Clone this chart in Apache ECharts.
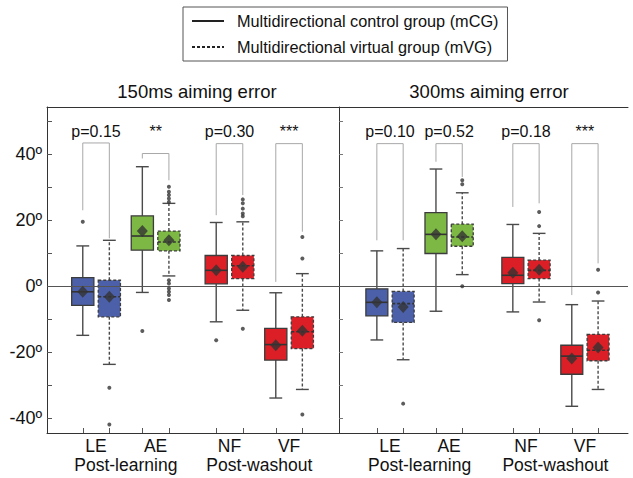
<!DOCTYPE html>
<html>
<head>
<meta charset="utf-8">
<script src="https://cdn.jsdelivr.net/npm/echarts@6/dist/echarts.min.js"></script>
<style>html,body{margin:0;padding:0;background:#fff;}#main{width:633px;height:478px;}</style>
</head>
<body>
<div id="main"></div>
<script>
// ---------- data ----------
const categories = ['LE', 'AE', 'NF', 'VF'];
const phases = ['Post-learning', 'Post-washout'];
const panelTitles = ['150ms aiming error', '300ms aiming error'];
const groupNames = ['Multidirectional control group (mCG)', 'Multidirectional virtual group (mVG)'];
const yTickLabels = [-40, -20, 0, 20, 40];
const yMinorTicks = [-40, -30, -20, -10, 0, 10, 20, 30, 40, 50];

// box stats: [lower whisker, Q1, median, Q3, upper whisker]
const mCG150 = [[-14.9, -5.8, -1.7, 2.6, 12.2], [-1.9, 10.9, 15.2, 21.3, 36.2], [-10.8, 0.7, 4.8, 9.3, 19.3], [-33.9, -22.4, -17.7, -12.8, -2.0]];
const mVG150 = [[-23.7, -9.3, -3.2, 1.8, 13.9], [3.1, 10.7, 13.4, 16.7, 25.1], [-7.3, 2.3, 6.2, 9.3, 19.5], [-31.3, -18.9, -13.8, -9.3, 3.8]];
const mCG150Mean = [-1.7, 16.7, 4.8, -17.9];
const mVG150Mean = [-3.2, 13.9, 5.9, -13.5];
const mCG150Out = [[19.5], [-13.6], [-16.4], []];
const mVG150Out = [[-30.8, -41.9], [30.1, 28.6, 27.6, 26.6, 25.5, 1.8, 0.8, -0.7, -1.7, -2.7, -4.2], [26.3, 25.1, 23.5, 22.0, 21.2, -12.9], [14.9, 8.4, -38.9]];

const mCG300 = [[-16.3, -9.0, -4.9, -0.8, 10.7], [-7.6, 9.9, 15.7, 22.3, 35.5], [-7.8, 0.8, 3.3, 8.7, 18.7], [-36.4, -26.7, -21.2, -17.9, -5.6]];
const mVG300 = [[-22.3, -11.0, -5.3, -1.6, 11.4], [3.5, 12.1, 14.9, 18.8, 28.3], [-4.8, 2.3, 4.8, 7.9, 16.0], [-31.3, -22.6, -19.4, -14.6, -4.5]];
const mCG300Mean = [-4.9, 15.7, 4.1, -21.9];
const mVG300Mean = [-6.3, 15.1, 5.0, -18.6];
const mCG300Out = [[], [], [], []];
const mVG300Out = [[-35.6], [32.1, 30.9, 0.0], [22.5, 18.2, -10.3], [5.0, -1.9]];

// significance: label, and bracket [top, left leg end, right leg end]
const sig150 = ['p=0.15', '**', 'p=0.30', '***'];
const sig300 = ['p=0.10', 'p=0.52', 'p=0.18', '***'];
const bracket150 = [[43.4, 23.0, 14.5], [40.2, 38.7, 32.1], [43.2, 21.5, 27.6], [43.2, 1.3, 16.5]];
const bracket300 = [[43.2, 13.9, 13.9], [43.2, 37.7, 33.1], [43.2, 24.0, 25.1], [43.2, -2.7, 6.9]];

// ---------- layout ----------
const groupPos = [[1.68, 3.72, 6.25, 8.29], [1.765, 3.81, 6.47, 8.51]];
const OFF = 0.455, BOX_HALF = 0.38, CAP_HALF = 0.22;
const Y_MIN = -44.5, Y_MAX = 54.3, SIG_TEXT_Y = 46.8;
const catColors = ['#4b60a9', '#7cb843', '#dc1f26', '#dc1f26'];
const FONT = 'Liberation Sans, Arial, sans-serif';

const chart = echarts.init(document.getElementById('main'), null, {renderer: 'svg'});

function boxSeries(panel, stats, sign, dashed) {
  return {
    type: 'custom', xAxisIndex: panel * 3, yAxisIndex: panel === 0 ? 0 : 1,
    silent: true, z: 3,
    data: stats.map((s, i) => [groupPos[panel][i] + sign * OFF, s[0], s[1], s[2], s[3], s[4], i]),
    encode: {x: 0, y: [1, 2, 3, 4, 5]},
    renderItem: function (params, api) {
      const x = api.value(0);
      const pLow = api.coord([x, api.value(1)]);
      const pQ1 = api.coord([x, api.value(2)]);
      const pMed = api.coord([x, api.value(3)]);
      const pQ3 = api.coord([x, api.value(4)]);
      const pHigh = api.coord([x, api.value(5)]);
      const hw = api.coord([x + BOX_HALF, 0])[0] - pMed[0];
      const cw = api.coord([x + CAP_HALF, 0])[0] - pMed[0];
      const col = catColors[api.value(6)];
      const dash = dashed ? [3, 2] : null;
      const ls = {stroke: '#4a4a4a', lineWidth: 1.4, lineDash: dash};
      const cx = pMed[0];
      return {
        type: 'group', children: [
          {type: 'line', shape: {x1: cx, y1: pQ3[1], x2: cx, y2: pHigh[1]}, style: ls},
          {type: 'line', shape: {x1: cx, y1: pQ1[1], x2: cx, y2: pLow[1]}, style: ls},
          {type: 'line', shape: {x1: cx - cw, y1: pHigh[1], x2: cx + cw, y2: pHigh[1]}, style: {stroke: '#4a4a4a', lineWidth: 1.4}},
          {type: 'line', shape: {x1: cx - cw, y1: pLow[1], x2: cx + cw, y2: pLow[1]}, style: {stroke: '#4a4a4a', lineWidth: 1.4}},
          {type: 'rect', shape: {x: cx - hw, y: pQ3[1], width: 2 * hw, height: pQ1[1] - pQ3[1]},
            style: {fill: col, stroke: '#3c3c3c', lineWidth: 1.3, lineDash: dash}},
          {type: 'line', shape: {x1: cx - hw, y1: pMed[1], x2: cx + hw, y2: pMed[1]}, style: {stroke: '#333', lineWidth: 1.6, lineDash: dash}}
        ]
      };
    }
  };
}

function meanSeries(panel, means, sign) {
  return {
    type: 'scatter', xAxisIndex: panel * 3, yAxisIndex: panel === 0 ? 0 : 1, silent: true, z: 5,
    symbol: 'diamond', symbolSize: [11, 12], itemStyle: {color: '#333'},
    data: means.map((m, i) => [groupPos[panel][i] + sign * OFF, m])
  };
}

function outlierSeries(panel, outs, sign) {
  const d = [];
  outs.forEach((arr, i) => arr.forEach(v => d.push([groupPos[panel][i] + sign * OFF, v])));
  return {
    type: 'scatter', xAxisIndex: panel * 3, yAxisIndex: panel === 0 ? 0 : 1, silent: true, z: 5,
    symbol: 'circle', symbolSize: 4, itemStyle: {color: '#333'}, data: d
  };
}

function sigSeries(panel, labels, brackets) {
  return {
    type: 'custom', xAxisIndex: panel * 3, yAxisIndex: panel === 0 ? 0 : 1, silent: true, z: 2,
    data: brackets.map((b, i) => [groupPos[panel][i], b[0], b[1], b[2], i]),
    renderItem: function (params, api) {
      const c = api.value(0);
      const pl = api.coord([c - OFF, api.value(2)]);
      const plt = api.coord([c - OFF, api.value(1)]);
      const prt = api.coord([c + OFF, api.value(1)]);
      const pr = api.coord([c + OFF, api.value(3)]);
      const pt = api.coord([c, SIG_TEXT_Y]);
      return {
        type: 'group', children: [
          {type: 'polyline', shape: {points: [pl, plt, prt, pr]}, style: {stroke: '#a8a8a8', lineWidth: 1, fill: null}},
          {type: 'text', x: pt[0], y: pt[1], style: {text: labels[api.value(4)], fill: '#111', font: '16px ' + FONT, align: 'center', verticalAlign: 'middle'}}
        ]
      };
    }
  };
}

function lookup(positions, names) {
  return function (v) {
    for (let i = 0; i < positions.length; i++) if (Math.abs(positions[i] - v) < 1e-6) return names[i];
    return '';
  };
}

const xAxes = [], series = [];
[0, 1].forEach(p => {
  const boxPos = [];
  groupPos[p].forEach(g => { boxPos.push(g - OFF, g + OFF); });
  const phasePos = [(groupPos[p][0] + groupPos[p][1]) / 2, (groupPos[p][2] + groupPos[p][3]) / 2];
  xAxes.push({
    gridIndex: p, type: 'value', min: 0, max: 10, position: 'bottom',
    axisLine: {show: true, onZero: false, lineStyle: {color: '#333', width: 1}},
    axisTick: {show: true, customValues: boxPos, inside: true, length: 5, lineStyle: {color: '#555'}},
    axisLabel: {customValues: groupPos[p], formatter: lookup(groupPos[p], categories), fontSize: 17.5, lineHeight: 17, color: '#111', fontFamily: FONT, margin: 4},
    splitLine: {show: false}
  });
  xAxes.push({
    gridIndex: p, type: 'value', min: 0, max: 10, position: 'bottom',
    axisLine: {show: false}, axisTick: {show: false},
    axisLabel: {customValues: phasePos, formatter: lookup(phasePos, phases), fontSize: 17.5, lineHeight: 17, color: '#111', fontFamily: FONT, margin: 23},
    splitLine: {show: false}
  });
  xAxes.push({
    gridIndex: p, type: 'value', min: 0, max: 10, position: 'top',
    axisLine: {show: true, onZero: false, lineStyle: {color: '#333', width: 1}},
    axisTick: {show: false}, axisLabel: {show: false}, splitLine: {show: false}
  });
});

series.push(
  {type: 'line', name: groupNames[0], xAxisIndex: 0, yAxisIndex: 0, data: [], symbol: 'none', lineStyle: {color: '#222', width: 1, type: 'solid'}, itemStyle: {color: '#222'}},
  {type: 'line', name: groupNames[1], xAxisIndex: 0, yAxisIndex: 0, data: [], symbol: 'none', lineStyle: {color: '#222', width: 1, type: [3, 2]}, itemStyle: {color: '#222'}}
);

series.push(
  sigSeries(0, sig150, bracket150), sigSeries(1, sig300, bracket300),
  boxSeries(0, mCG150, -1, false), boxSeries(0, mVG150, 1, true),
  boxSeries(1, mCG300, -1, false), boxSeries(1, mVG300, 1, true),
  meanSeries(0, mCG150Mean, -1), meanSeries(0, mVG150Mean, 1),
  meanSeries(1, mCG300Mean, -1), meanSeries(1, mVG300Mean, 1),
  outlierSeries(0, mCG150Out, -1), outlierSeries(0, mVG150Out, 1),
  outlierSeries(1, mCG300Out, -1), outlierSeries(1, mVG300Out, 1)
);
// zero reference lines
[0, 1].forEach(p => {
  series.push({
    type: 'line', xAxisIndex: p * 3, yAxisIndex: p === 0 ? 0 : 1, data: [], silent: true,
    markLine: {silent: true, symbol: 'none', label: {show: false}, lineStyle: {color: '#555', width: 1, type: 'solid'}, data: [{yAxis: 0}]}
  });
});

const option = {
  backgroundColor: '#fff',
  animation: false,
  textStyle: {fontFamily: FONT},
  title: [
    {text: panelTitles[0], left: 192, top: 77, textAlign: 'center', textStyle: {fontSize: 18.5, fontWeight: 'normal', color: '#111', fontFamily: FONT}},
    {text: panelTitles[1], left: 484, top: 77, textAlign: 'center', textStyle: {fontSize: 18.5, fontWeight: 'normal', color: '#111', fontFamily: FONT}}
  ],
  legend: {
    data: groupNames, orient: 'vertical', left: 183, top: 7,
    itemWidth: 32, itemHeight: 14, itemGap: 10,
    padding: [6, 9, 6, 8],
    borderColor: '#555', borderWidth: 1,
    itemStyle: {opacity: 0},
    textStyle: {fontSize: 16.3, color: '#111', fontFamily: FONT, padding: [0, 0, 0, 8]},
    selectedMode: false
  },
  grid: [
    {left: 47, top: 107, width: 292, height: 326},
    {left: 339, top: 107, width: 289, height: 326}
  ],
  xAxis: xAxes,
  yAxis: [
    {gridIndex: 0, type: 'value', min: Y_MIN, max: Y_MAX, position: 'left',
      axisLine: {show: true, lineStyle: {color: '#333', width: 1}},
      axisTick: {show: true, customValues: yMinorTicks, inside: true, length: 5, lineStyle: {color: '#555'}},
      axisLabel: {customValues: yTickLabels, formatter: v => v + 'º', fontSize: 18, color: '#111', fontFamily: FONT, margin: 5},
      splitLine: {show: false}},
    {gridIndex: 1, type: 'value', min: Y_MIN, max: Y_MAX, position: 'left',
      axisLine: {show: true, lineStyle: {color: '#333', width: 1}},
      axisTick: {show: false}, axisLabel: {show: false}, splitLine: {show: false}},
    {gridIndex: 1, type: 'value', min: Y_MIN, max: Y_MAX, position: 'right',
      axisLine: {show: false},
      axisTick: {show: true, customValues: yMinorTicks, inside: false, length: 4, lineStyle: {color: '#777'}},
      axisLabel: {show: false}, splitLine: {show: false}}
  ],
  series: series
};
chart.setOption(option);
</script>
</body>
</html>
